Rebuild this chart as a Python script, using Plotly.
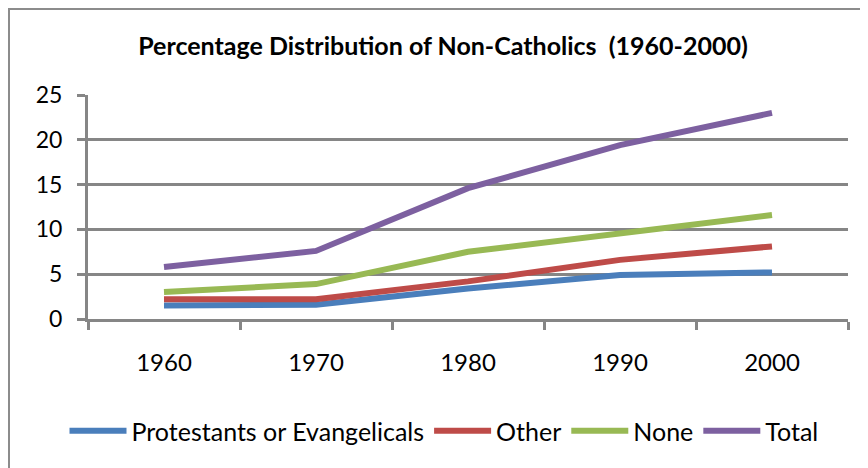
import plotly.graph_objects as go

years = ["1960", "1970", "1980", "1990", "2000"]
protestants = [1.5, 1.6, 3.4, 4.9, 5.2]
other = [2.2, 2.2, 4.2, 6.6, 8.1]
none = [3.0, 3.9, 7.5, 9.6, 11.6]
total = [5.8, 7.6, 14.6, 19.4, 23.0]

series = [
    ("Protestants or Evangelicals", protestants, "#4A7EBB"),
    ("Other", other, "#BE4B48"),
    ("None", none, "#98B954"),
    ("Total", total, "#7D60A0"),
]

fig = go.Figure()
for name, vals, color in series:
    fig.add_trace(go.Scatter(x=years, y=vals, name=name, mode="lines",
                             line=dict(color=color, width=6)))

grid = "#868686"
font_family = "Lato, 'Open Sans', sans-serif"

W, H = 868, 468
L, R, T, B = 80, 28, 87, 157
pw, ph = W - L - R, H - T - B

def px_x(p):
    return (p - L) / pw

def px_y(p):
    return (H - B - p) / ph

fig.update_layout(
    width=W, height=H,
    margin=dict(l=L, r=R, t=T, b=B, autoexpand=False),
    paper_bgcolor="white", plot_bgcolor="white",
    font=dict(family=font_family, size=24, color="black"),
    title=dict(text="<b>Percentage Distribution of Non-Catholics  (1960-2000)</b>",
               x=435 / W, xanchor="center", y=1 - 38 / H, yanchor="middle",
               font=dict(size=25, family=font_family, color="black")),
    showlegend=True,
    legend=dict(orientation="h", x=px_x(436), xanchor="center", y=px_y(423), yanchor="middle",
                font=dict(size=25, family=font_family), itemwidth=57, tracegroupgap=0),
    xaxis=dict(type="category", range=[-0.5, 4.5], showgrid=False, showline=True,
               linecolor=grid, linewidth=3,
               ticks="outside", tickson="boundaries", ticklen=8, tickwidth=3, tickcolor=grid,
               ticklabelstandoff=20, tickfont=dict(size=24), zeroline=False),
    yaxis=dict(range=[0, 25], dtick=5, showgrid=True, gridcolor=grid, gridwidth=3,
               showline=True, linecolor=grid, linewidth=3, ticks="outside", ticklen=8,
               tickwidth=3, tickcolor=grid, ticklabelstandoff=10, zeroline=False,
               tickfont=dict(size=23)),
    shapes=[
        dict(type="line", xref="paper", yref="paper", x0=px_x(0), x1=px_x(870),
             y0=px_y(1), y1=px_y(1), line=dict(color="#8C8C8C", width=2)),
        dict(type="line", xref="paper", yref="paper", x0=px_x(1), x1=px_x(1),
             y0=px_y(0), y1=px_y(470), line=dict(color="#8C8C8C", width=2)),
    ],
)

fig.write_html("out.html")
